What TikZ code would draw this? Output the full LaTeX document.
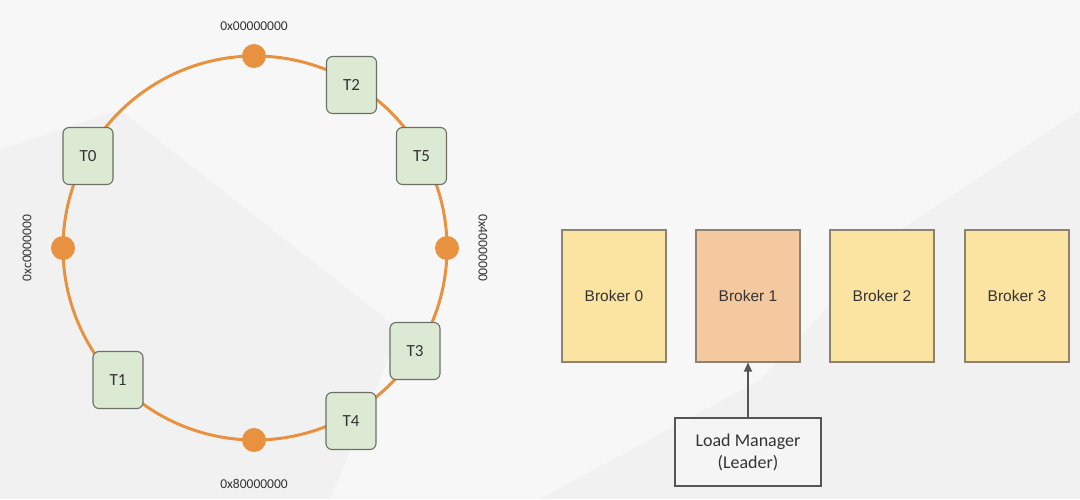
\documentclass[tikz,border=0pt]{standalone}
\usepackage{fontspec}
\newfontfamily\carl{Carlito}
\newfontfamily\libs{Liberation Sans}
\usetikzlibrary{arrows.meta}
\definecolor{bgc}{HTML}{F7F7F7}
\definecolor{bgd}{HTML}{F1F1F1}
\definecolor{ringc}{HTML}{E8913F}
\definecolor{tfill}{HTML}{DCEAD4}
\definecolor{tdraw}{HTML}{6A6F68}
\definecolor{bfill}{HTML}{FBE3A2}
\definecolor{bfillb}{HTML}{F5C9A0}
\definecolor{bdraw}{HTML}{8C8270}
\definecolor{lmfill}{HTML}{F5F5F5}
\definecolor{lmdraw}{HTML}{555555}
\definecolor{txt}{HTML}{333333}
\tikzset{
  tbox/.style={draw=tdraw, line width=1.1pt, fill=tfill, rounded corners=6pt,
    minimum width=50pt, minimum height=57pt, inner sep=0pt, font=\carl\fontsize{17}{20}\selectfont, text=txt},
  ringdot/.style={circle, fill=ringc, minimum size=24pt, inner sep=0pt},
  hexlab/.style={font=\carl\fontsize{13.5}{16}\selectfont, text=txt, inner sep=0pt},
  broker/.style={draw=bdraw, line width=1.1pt, fill=bfill, minimum width=104pt, minimum height=132pt,
    inner sep=0pt, font=\libs\fontsize{15.5}{18}\selectfont, text=txt},
  lmbox/.style={draw=lmdraw, line width=1.1pt, fill=lmfill, minimum width=146pt, minimum height=68pt,
    inner sep=0pt, align=center, font=\carl\fontsize{18}{22}\selectfont, text=txt},
  conn/.style={draw=lmdraw, line width=1.3pt, -{Triangle[length=9pt,width=8pt]}}
}
\begin{document}
\begin{tikzpicture}[x=1pt,y=-1pt]
\useasboundingbox (0,0) rectangle (1080,499);
% background
\fill[bgc] (0,0) rectangle (1080,499);
\fill[bgd] (0,150) -- (120,110) -- (400,330) -- (330,499) -- (0,499) -- cycle;
\fill[bgd] (540,499) -- (760,380) -- (900,230) -- (1080,110) -- (1080,499) -- cycle;
% ring
\coordinate (c) at (255,248);
\draw[ringc, line width=3pt] (c) circle[radius=192pt];
\node[ringdot] (d0) at (254,56) {};
\node[ringdot] (d4) at (447,248) {};
\node[ringdot] (d8) at (254,440) {};
\node[ringdot] (dc) at (63,248) {};
% hash labels
\node[hexlab] (l0) at (254,26) {0x00000000};
\node[hexlab] (l8) at (254,484) {0x80000000};
\node[hexlab, rotate=90] (lc) at (27,248) {0xc0000000};
\node[hexlab, rotate=-90] (l4) at (483,248) {0x40000000};
% topics
\node[tbox] (t2) at (351.5,85) {T2};
\node[tbox] (t0) at (88,156) {T0};
\node[tbox] (t5) at (421.5,156) {T5};
\node[tbox] (t3) at (415,351) {T3};
\node[tbox] (t1) at (118,380) {T1};
\node[tbox] (t4) at (351,421) {T4};
% brokers
\node[broker] (b0) at (614,296) {Broker 0};
\node[broker, fill=bfillb] (b1) at (748,296) {Broker 1};
\node[broker] (b2) at (882,296) {Broker 2};
\node[broker] (b3) at (1017,296) {Broker 3};
% load manager
\node[lmbox] (lm) at (748,452) {Load Manager\\(Leader)};
\draw[conn] (lm.north) -- (b1.south);
\end{tikzpicture}
\end{document}
